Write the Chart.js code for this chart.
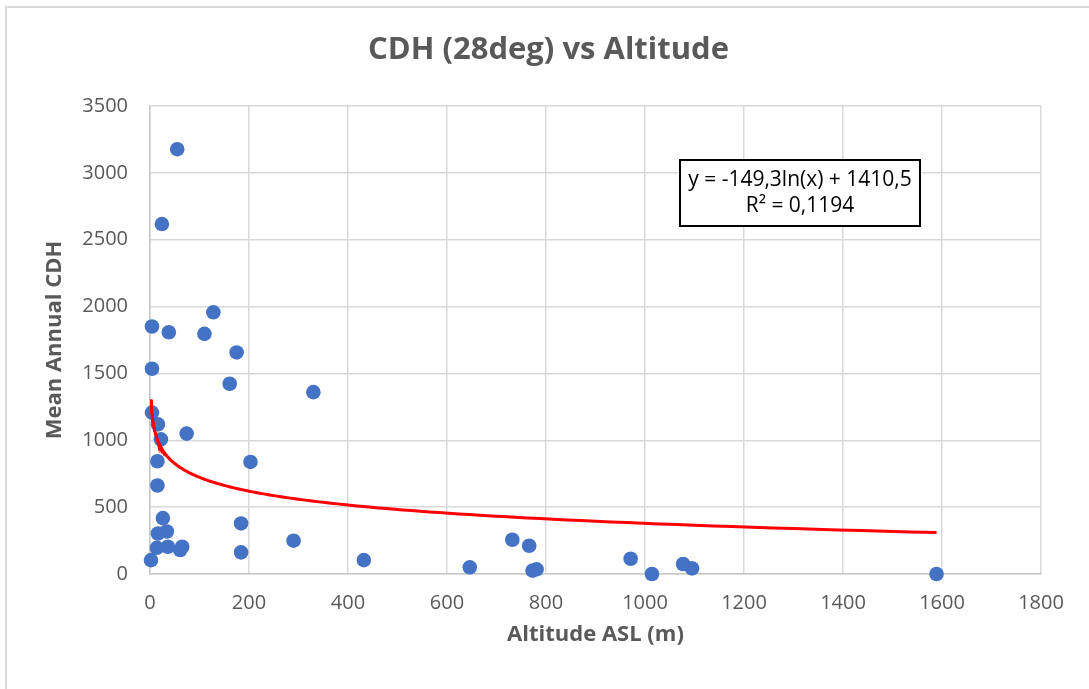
<!DOCTYPE html>
<html>
<head>
<meta charset="utf-8">
<title>CDH (28deg) vs Altitude</title>
<script src="https://cdn.jsdelivr.net/npm/chart.js@4"></script>
<style>
  html, body { margin: 0; padding: 0; background: #fff; overflow: hidden; }
  #wrap { position: absolute; left: 0; top: 0; width: 1089px; height: 689px; }
</style>
</head>
<body>
<div id="wrap"><canvas id="chart" width="1089" height="689"></canvas></div>
<script>
// stations: altitude above sea level (m) and mean annual cooling degree hours
const altitude = [55, 24, 4, 38, 128, 110, 175, 4, 161, 330, 4, 16, 22, 74, 15, 203, 15, 26, 16, 34,
    184, 14, 36, 61, 65, 290, 184, 2, 432, 646, 732, 766, 773, 781, 971, 1014, 1077, 1095, 1589];
const cdh = [3177, 2617, 1851, 1808, 1957, 1796, 1657, 1535, 1423, 1360, 1207, 1119, 1007, 1050, 843, 838, 662, 418, 303, 318,
    378, 196, 204, 179, 204, 249, 162, 104, 104, 50, 256, 211, 25, 35, 114, 0, 75, 42, 0];

// log trendline y = a*ln(x) + b
const trendA = -149.3;
const trendB = 1410.5;
const trendLabel = ['y = -149,3ln(x) + 1410,5', 'R² = 0,1194'];

const xTicks = [0, 200, 400, 600, 800, 1000, 1200, 1400, 1600, 1800];
const yTicks = [0, 500, 1000, 1500, 2000, 2500, 3000, 3500];

const points = altitude.map((x, i) => ({ x: x, y: cdh[i] }));

const xMin = Math.min(...altitude), xMax = Math.max(...altitude);
const trend = [];
for (let i = 0; i <= 200; i++) {
    const x = Math.exp(Math.log(xMin) + (Math.log(xMax) - Math.log(xMin)) * i / 200);
    trend.push({ x: x, y: trendA * Math.log(x) + trendB });
}

const grey = '#595959';
const gridCol = '#d9d9d9';

const frame = {
    id: 'frame',
    beforeDraw(chart) {
        const c = chart.ctx;
        c.save();
        c.fillStyle = '#fff';
        c.fillRect(0, 0, chart.width, chart.height);
        c.strokeStyle = gridCol;
        c.lineWidth = 2;
        c.strokeRect(6, 7, chart.width + 20, chart.height + 20);
        c.restore();
    }
};

const eqBox = {
    id: 'eqBox',
    afterDraw(chart) {
        const c = chart.ctx;
        const a = chart.chartArea;
        const x = a.left + 530, y = a.top + 54, w = 240, h = 66;
        c.save();
        c.fillStyle = '#fff';
        c.fillRect(x, y, w, h);
        c.strokeStyle = '#000';
        c.lineWidth = 2;
        c.strokeRect(x, y, w, h);
        c.fillStyle = '#000';
        c.font = '21px "Open Sans"';
        c.textAlign = 'center';
        c.textBaseline = 'middle';
        c.fillText(trendLabel[0], x + w / 2, y + 20);
        c.fillText(trendLabel[1], x + w / 2, y + 46);
        c.restore();
    }
};

const plain = v => String(v);

new Chart(document.getElementById('chart'), {
    type: 'scatter',
    data: {
        datasets: [
            {
                label: 'CDH',
                data: points,
                order: 1,
                backgroundColor: '#4472c4',
                borderWidth: 0,
                pointRadius: 7.3,
                clip: false
            },
            {
                label: 'Log. (CDH)',
                data: trend,
                order: 0,
                showLine: true,
                borderColor: '#ff0000',
                borderWidth: 3,
                pointRadius: 0,
                fill: false
            }
        ]
    },
    options: {
        responsive: false,
        animation: false,
        events: [],
        layout: { padding: { left: 56, right: 48, top: 0, bottom: 0 } },
        plugins: {
            legend: { display: false },
            tooltip: { enabled: false },
            title: {
                display: true,
                text: 'CDH (28deg) vs Altitude',
                color: grey,
                font: { family: 'Open Sans', size: 31, weight: 'bold', lineHeight: 1.2 },
                padding: { top: 31.4, bottom: 37.4 }
            }
        },
        scales: {
            x: {
                type: 'linear',
                min: 0,
                max: 1800,
                afterBuildTicks: s => { s.ticks = xTicks.map(v => ({ value: v })); },
                afterFit: s => { s.height = 115; },
                grid: { color: gridCol, lineWidth: 1.5, drawTicks: false },
                border: { color: '#c8c8c8', width: 1.5 },
                ticks: { color: grey, padding: 17, callback: plain, font: { family: 'Open Sans', size: 20 } },
                title: {
                    display: true,
                    text: 'Altitude ASL (m)',
                    color: grey,
                    font: { family: 'Open Sans', size: 22, weight: 'bold', lineHeight: 1.2 },
                    padding: { top: 0, bottom: 40.8 }
                }
            },
            y: {
                type: 'linear',
                min: 0,
                max: 3500,
                afterBuildTicks: s => { s.ticks = yTicks.map(v => ({ value: v })); },
                afterFit: s => { s.width = 94; },
                grid: { color: gridCol, lineWidth: 1.5, drawTicks: false },
                border: { color: '#c8c8c8', width: 1.5 },
                ticks: { color: grey, padding: 22, callback: plain, font: { family: 'Open Sans', size: 20 } },
                title: {
                    display: true,
                    text: 'Mean Annual CDH',
                    color: grey,
                    font: { family: 'Open Sans', size: 22, weight: 'bold', lineHeight: 1.2 },
                    padding: { top: -14.2, bottom: 0 }
                }
            }
        }
    },
    plugins: [frame, eqBox]
});
</script>
</body>
</html>
